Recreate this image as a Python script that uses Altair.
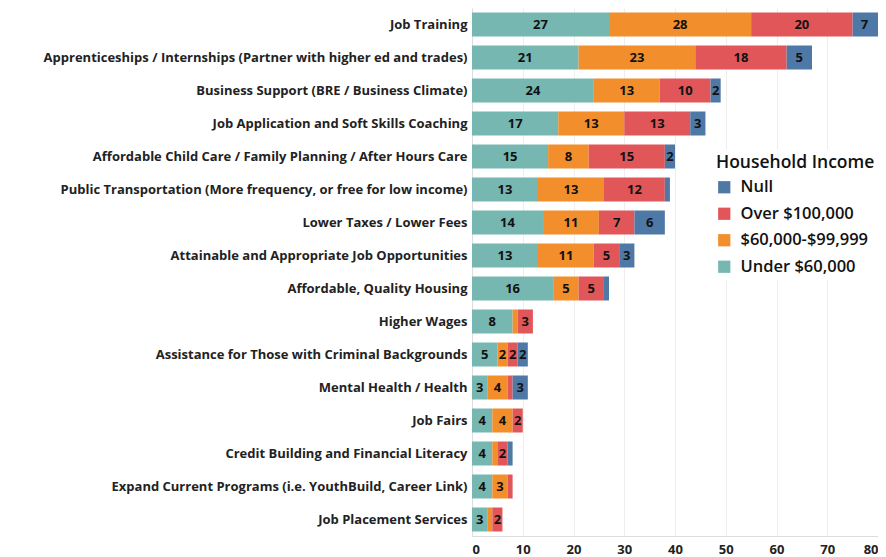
import altair as alt
import pandas as pd

categories = [
    "Job Training",
    "Apprenticeships / Internships (Partner with higher ed and trades)",
    "Business Support (BRE / Business Climate)",
    "Job Application and Soft Skills Coaching",
    "Affordable Child Care / Family Planning / After Hours Care",
    "Public Transportation (More frequency, or free for low income)",
    "Lower Taxes / Lower Fees",
    "Attainable and Appropriate Job Opportunities",
    "Affordable, Quality Housing",
    "Higher Wages",
    "Assistance for Those with Criminal Backgrounds",
    "Mental Health / Health",
    "Job Fairs",
    "Credit Building and Financial Literacy",
    "Expand Current Programs (i.e. YouthBuild, Career Link)",
    "Job Placement Services",
]
under_60k = [27, 21, 24, 17, 15, 13, 14, 13, 16, 8, 5, 3, 4, 4, 4, 3]
from_60k_to_99k = [28, 23, 13, 13, 8, 13, 11, 11, 5, 1, 2, 4, 4, 1, 3, 1]
over_100k = [20, 18, 10, 13, 15, 12, 7, 5, 5, 3, 2, 1, 2, 2, 1, 2]
null_income = [7, 5, 2, 3, 2, 1, 6, 3, 1, 0, 2, 3, 0, 1, 0, 0]

series_names = ["Under $60,000", "$60,000-$99,999", "Over $100,000", "Null"]
series_values = [under_60k, from_60k_to_99k, over_100k, null_income]
legend_order = ["Null", "Over $100,000", "$60,000-$99,999", "Under $60,000"]
legend_colors = ["#4e79a7", "#e15759", "#f28e2b", "#76b7b2"]
tick_values = [0, 10, 20, 30, 40, 50, 60, 70, 80]
X_MAX = 80

rows = []
for order, (name, vals) in enumerate(zip(series_names, series_values)):
    for cat, v in zip(categories, vals):
        rows.append({"category": cat, "income": name, "value": v, "order": order})
df = pd.DataFrame(rows)

FONT = "Open Sans"

base = alt.Chart(df).transform_stack(
    stack="value",
    groupby=["category"],
    as_=["x0", "x1"],
    sort=[alt.SortField("order", order="ascending")],
).transform_calculate(mid=f"(datum.x0 + min(datum.x1, {X_MAX - 0.3})) / 2")

y = alt.Y(
    "category:N",
    sort=categories,
    title=None,
    scale=alt.Scale(paddingInner=0, paddingOuter=0),
    axis=alt.Axis(
        labelFont=FONT, labelFontSize=13, labelFontWeight="bold", labelColor="#222222",
        labelLimit=600, ticks=False, domain=True, domainColor="#dddddd",
        labelPadding=5, grid=False,
    ),
)
xscale = alt.Scale(domain=[0, X_MAX], nice=False)

bars = base.mark_bar(size=24, clip=True).encode(
    y=y,
    x=alt.X(
        "x0:Q", scale=xscale, title=None,
        axis=alt.Axis(
            values=tick_values,
            labelFont=FONT, labelFontSize=13, labelFontWeight="bold", labelColor="#222222",
            grid=True, gridColor="#eeeeee", ticks=False, domainColor="#dddddd",
            labelPadding=7, labelFlush=True,
        ),
    ),
    x2="x1:Q",
    color=alt.Color(
        "income:N",
        scale=alt.Scale(domain=legend_order, range=legend_colors),
        legend=alt.Legend(
            title="Household Income", orient="none", legendX=240, legendY=142,
            titleFont=FONT, titleFontSize=17.5, titleFontWeight=600, titleColor="#111111",
            labelFont=FONT, labelFontSize=16.5, labelFontWeight=600, labelColor="#111111",
            symbolType="square", symbolSize=150, symbolStrokeWidth=0,
            rowPadding=9.5, fillColor="white", padding=4, titlePadding=7.5, labelOffset=8,
        ),
    ),
)

labels = base.transform_filter("datum.value >= 2").mark_text(
    font=FONT, fontSize=13, fontWeight="bold", color="#111111", clip=True
).encode(
    y=alt.Y("category:N", sort=categories),
    x=alt.X("mid:Q", scale=xscale),
    text="value:Q",
)

chart = (bars + labels).properties(
    width=406, height=528,
    autosize=alt.AutoSizeParams(type="none"),
    padding={"left": 464, "top": 0, "right": 0, "bottom": 25},
).configure_view(stroke=None)

chart.save("out.html", embed_options={"renderer": "svg", "actions": False})
